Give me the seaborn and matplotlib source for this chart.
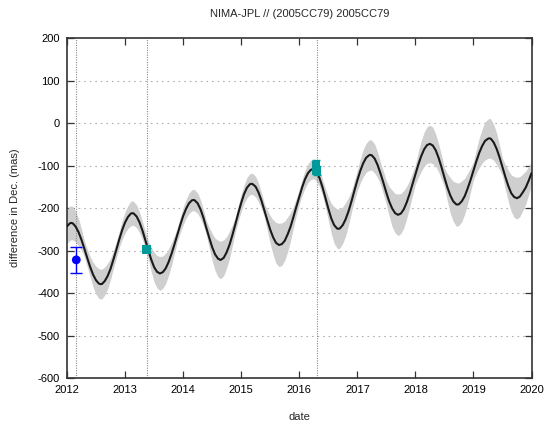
import matplotlib
matplotlib.use("Agg")
import matplotlib.pyplot as plt
import seaborn as sns
import pandas as pd

# Predicted offset (ephemeris difference) and its spread, sampled in decimal years
dates = [2012.00, 2012.05, 2012.07, 2012.10, 2012.15, 2012.20, 2012.25, 2012.30, 2012.35,
         2012.40, 2012.45, 2012.50, 2012.55, 2012.58, 2012.60, 2012.65, 2012.70, 2012.75,
         2012.80, 2012.85, 2012.90, 2012.95, 2013.00, 2013.05, 2013.10, 2013.13, 2013.15,
         2013.20, 2013.25, 2013.30, 2013.35, 2013.40, 2013.45, 2013.50, 2013.55, 2013.60,
         2013.65, 2013.70, 2013.75, 2013.80, 2013.85, 2013.90, 2013.95, 2014.00, 2014.05,
         2014.10, 2014.15, 2014.18, 2014.20, 2014.25, 2014.30, 2014.35, 2014.40, 2014.45,
         2014.50, 2014.55, 2014.60, 2014.64, 2014.65, 2014.70, 2014.75, 2014.80, 2014.85,
         2014.90, 2014.95, 2015.00, 2015.05, 2015.10, 2015.15, 2015.18, 2015.20, 2015.25,
         2015.30, 2015.35, 2015.40, 2015.45, 2015.50, 2015.55, 2015.60, 2015.65, 2015.70,
         2015.75, 2015.80, 2015.85, 2015.90, 2015.95, 2016.00, 2016.05, 2016.10, 2016.15,
         2016.20, 2016.25, 2016.30, 2016.35, 2016.40, 2016.45, 2016.50, 2016.55, 2016.60,
         2016.65, 2016.67, 2016.70, 2016.75, 2016.80, 2016.85, 2016.90, 2016.95, 2017.00,
         2017.05, 2017.10, 2017.15, 2017.20, 2017.22, 2017.25, 2017.30, 2017.35, 2017.40,
         2017.45, 2017.50, 2017.55, 2017.60, 2017.65, 2017.70, 2017.75, 2017.80, 2017.85,
         2017.90, 2017.95, 2018.00, 2018.05, 2018.10, 2018.15, 2018.20, 2018.25, 2018.30,
         2018.35, 2018.40, 2018.45, 2018.50, 2018.55, 2018.60, 2018.65, 2018.70, 2018.72,
         2018.75, 2018.80, 2018.85, 2018.90, 2018.95, 2019.00, 2019.05, 2019.10, 2019.15,
         2019.20, 2019.25, 2019.27, 2019.30, 2019.35, 2019.40, 2019.45, 2019.50, 2019.55,
         2019.60, 2019.65, 2019.70, 2019.75, 2019.80, 2019.85, 2019.90, 2019.95, 2020.00]

offset = [-243, -236, -235, -236, -244, -257, -275, -296, -318,
          -339, -357, -370, -378, -379, -379, -372, -360, -343,
          -321, -298, -274, -252, -234, -221, -213, -212, -213,
          -220, -234, -253, -276, -299, -321, -339, -350, -354,
          -351, -342, -327, -308, -286, -263, -240, -219, -202,
          -189, -182, -181, -182, -189, -203, -223, -247, -270,
          -292, -309, -319, -322, -322, -317, -304, -286, -263,
          -238, -212, -188, -167, -152, -144, -143, -144, -150,
          -164, -183, -206, -229, -251, -269, -282, -287, -285,
          -277, -262, -244, -221, -197, -174, -151, -132, -118,
          -110, -108, -115, -130, -151, -176, -201, -224, -240,
          -248, -249, -248, -240, -226, -207, -184, -159, -135,
          -113, -95, -82, -76, -75, -76, -84, -99, -119,
          -141, -164, -185, -201, -212, -216, -213, -203, -187,
          -167, -144, -121, -98, -78, -62, -52, -49, -53,
          -64, -82, -104, -128, -151, -170, -184, -191, -192,
          -191, -184, -172, -154, -134, -112, -90, -70, -54,
          -42, -37, -36, -37, -46, -61, -81, -104, -127,
          -148, -165, -174, -177, -173, -163, -152, -136, -118]

spread = [40, 40, 40, 39, 36, 32, 25, 19, 21,
          24, 29, 33, 35, 35, 35, 33, 30, 25,
          21, 19, 19, 22, 25, 27, 29, 29, 28,
          27, 24, 21, 20, 21, 28, 35, 38, 40,
          38, 36, 31, 27, 21, 16, 18, 21, 22,
          24, 25, 25, 25, 24, 22, 19, 17, 24,
          32, 38, 43, 44, 44, 42, 37, 32, 24,
          17, 18, 20, 22, 24, 25, 25, 25, 24,
          22, 19, 16, 24, 33, 41, 48, 51, 50,
          46, 41, 33, 25, 20, 17, 19, 21, 22,
          23, 23, 22, 20, 18, 22, 27, 35, 43,
          46, 47, 46, 43, 39, 32, 25, 24, 24,
          28, 32, 34, 36, 36, 35, 34, 30, 26,
          27, 28, 35, 43, 46, 49, 47, 44, 38,
          32, 27, 23, 30, 36, 40, 43, 44, 43,
          38, 33, 28, 23, 32, 42, 47, 51, 51,
          50, 48, 42, 36, 28, 21, 28, 35, 40,
          45, 46, 47, 46, 42, 37, 29, 21, 29,
          37, 43, 48, 49, 47, 43, 39, 33, 28]

# Observed positions
obs_blue_date = [2012.16]
obs_blue_val = [-322]
obs_blue_err = [30]

obs_teal_date = [2013.37, 2016.29, 2016.30]
obs_teal_val = [-298, -100, -112]
obs_teal_err = [5, 14, 10]

epochs = [2012.16, 2013.37, 2016.30]

year_ticks = [2012, 2013, 2014, 2015, 2016, 2017, 2018, 2019, 2020]
value_ticks = [-600, -500, -400, -300, -200, -100, 0, 100, 200]

sns.set_theme(style="ticks")
plt.rcParams["font.family"] = ["Liberation Sans", "DejaVu Sans"]

fig = plt.figure(figsize=(5.5, 4.3), dpi=100)
ax = fig.add_axes([0.1218, 0.1209, 0.8446, 0.7907])

curve = pd.DataFrame({"date": dates, "offset": offset, "spread": spread})
lo = curve["offset"] - curve["spread"]
hi = curve["offset"] + curve["spread"]

for yv in value_ticks[1:-1]:
    ax.axhline(yv, color="#b0b0b0", lw=0.8, ls=(0, (1.5, 3.5)), zorder=0)

ax.fill_between(curve["date"], lo, hi, color="#cfcfcf", lw=0, zorder=1)

for e in epochs:
    ax.axvline(e, color="#8a8a8a", lw=0.8, ls=(0, (1, 1.2)), zorder=2)

sns.lineplot(data=curve, x="date", y="offset", color="#1a1a1a", lw=1.5,
             ax=ax, zorder=3, sort=False, solid_joinstyle="round",
             solid_capstyle="round")

ax.errorbar(obs_blue_date, obs_blue_val, yerr=obs_blue_err, fmt="none",
            ecolor="#0000ff", elinewidth=1.0, capsize=4, capthick=1.0, zorder=4)
sns.scatterplot(x=obs_blue_date, y=obs_blue_val, color="#0000ff", marker="o",
                s=40, edgecolor="none", ax=ax, zorder=5)

ax.errorbar(obs_teal_date, obs_teal_val, yerr=obs_teal_err, fmt="none",
            ecolor="#009a9a", elinewidth=1.0, capsize=3, capthick=1.0, zorder=4)
sns.scatterplot(x=obs_teal_date, y=obs_teal_val, color="#009a9a", marker="s",
                s=38, edgecolor="none", ax=ax, zorder=5)

ax.set_xlim(2012, 2020)
ax.set_ylim(-600, 200)
ax.set_xticks(year_ticks)
ax.set_xticklabels([str(t) for t in year_ticks])
ax.set_yticks(value_ticks)
ax.set_yticklabels([str(t) for t in value_ticks])
ax.tick_params(axis="both", direction="in", length=5, width=0.9, labelsize=8,
               top=True, right=True, colors="#333333", labelcolor="black", pad=5)

for side in ["left", "right", "top", "bottom"]:
    ax.spines[side].set_visible(True)
    ax.spines[side].set_color("#333333")
    ax.spines[side].set_linewidth(1.2)

ax.set_xlabel("date", fontsize=8, labelpad=12)
ax.set_ylabel("difference in Dec. (mas)", fontsize=8, labelpad=13)
ax.set_title("NIMA-JPL // (2005CC79) 2005CC79", fontsize=8, pad=15)

fig.savefig("out.png", dpi=100)
